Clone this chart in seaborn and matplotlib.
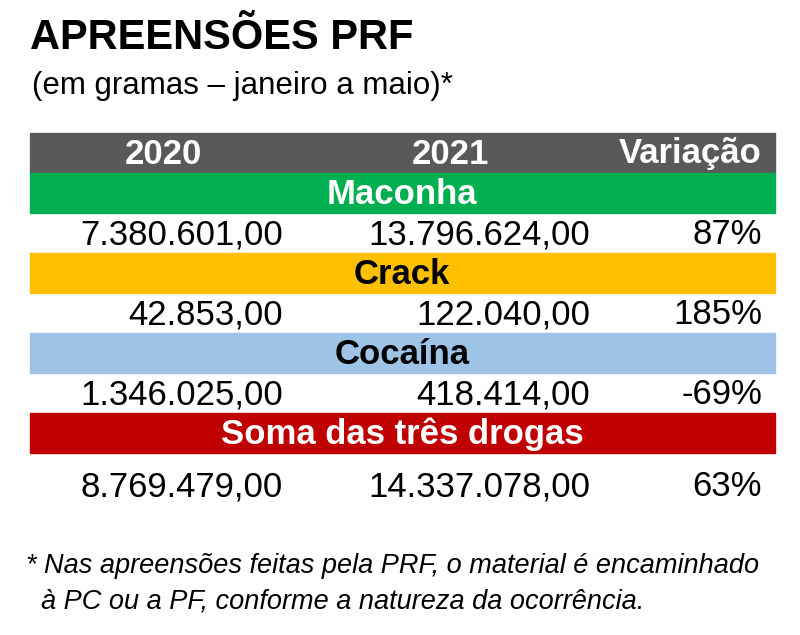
import matplotlib
matplotlib.use("Agg")
import matplotlib.pyplot as plt
import seaborn as sns
from matplotlib.patches import Rectangle

sns.set_theme(style="white", font="Liberation Sans", rc={"text.color": "black"})

title = "APREENSÕES PRF"
subtitle = "(em gramas – janeiro a maio)*"
columns = ["2020", "2021", "Variação"]
drugs = ["Maconha", "Crack", "Cocaína", "Soma das três drogas"]
values_2020 = ["7.380.601,00", "42.853,00", "1.346.025,00", "8.769.479,00"]
values_2021 = ["13.796.624,00", "122.040,00", "418.414,00", "14.337.078,00"]
variation = ["87%", "185%", "-69%", "63%"]
band_colors = ["#00B050", "#FFC000", "#9DC3E6", "#C00000"]
band_text = ["white", "black", "black", "white"]
footnote = ["* Nas apreensões feitas pela PRF, o material é encaminhado",
            "  à PC ou a PF, conforme a natureza da ocorrência."]

fig = plt.figure(figsize=(8, 6.35), dpi=100)
ax = fig.add_axes([0, 0, 1, 1])
ax.set_xlim(0, 800)
ax.set_ylim(635, 0)
ax.axis("off")

ax.text(30, 38, title, fontsize=30, fontweight="bold", va="center", ha="left")
ax.text(32, 86, subtitle, fontsize=22.5, va="center", ha="left")

x0, x1 = 30, 775
ax.add_patch(Rectangle((x0, 133), x1 - x0, 40, color="#595959"))
for label, x, ha in zip(columns, [163, 450, 762], ["center", "center", "right"]):
    ax.text(x, 154, label, fontsize=25, fontweight="bold", color="white", ha=ha, va="center")

for i, drug in enumerate(drugs):
    top = 173 + i * 80
    ax.add_patch(Rectangle((x0, top), x1 - x0, 40, color=band_colors[i]))
    ax.text(402, top + 21, drug, fontsize=25, fontweight="bold", color=band_text[i],
            ha="center", va="center")
    y = top + 62 if i < 3 else top + 74
    for val, x in zip([values_2020[i], values_2021[i], variation[i]], [283, 590, 762]):
        ax.text(x, y, val, fontsize=25, ha="right", va="center")

for j, line in enumerate(footnote):
    ax.text(26, 566 + j * 35, line, fontsize=19.5, style="italic", ha="left", va="center")

plt.savefig("out.png", dpi=100)
